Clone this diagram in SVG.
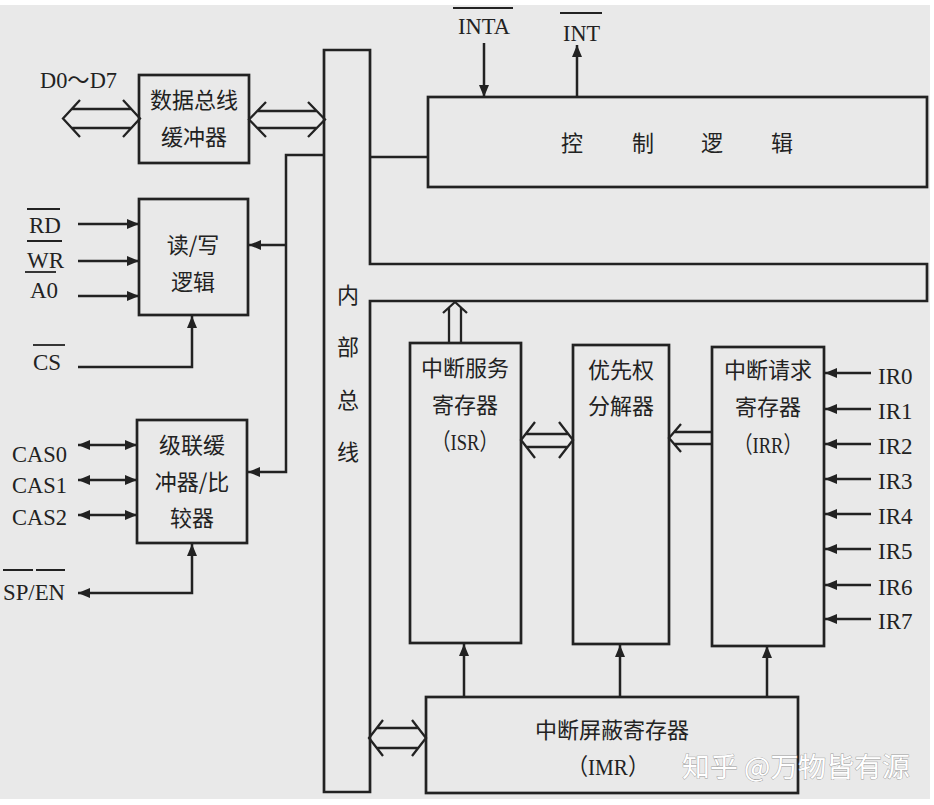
<svg xmlns="http://www.w3.org/2000/svg" width="934" height="805" viewBox="0 0 934 805">
<defs>
<style>
.box{fill:none;stroke:#222222;stroke-width:2.7}
.ln{fill:none;stroke:#222222;stroke-width:2.5}
.hol{fill:none;stroke:#222222;stroke-width:2.3;stroke-linejoin:miter}
.ov{fill:none;stroke:#222222;stroke-width:1.8}
.lt{font-family:"Liberation Serif","Noto Sans CJK SC",serif;font-size:23px;fill:#222222}
.cn{font-family:"Noto Sans CJK SC","Noto Sans CJK JP",sans-serif;font-size:22px;fill:#222222;text-anchor:middle}
.mx{font-family:"Liberation Serif","Noto Sans CJK SC",serif;font-size:23px;fill:#222222;text-anchor:middle}
.wm{font-family:"Noto Sans CJK SC",sans-serif;font-size:27px;fill:#ffffff;stroke:#9a9a9a;stroke-width:0.8;paint-order:stroke}
</style>
<marker id="ah" viewBox="0 0 12 10" refX="12" refY="5" markerWidth="12" markerHeight="10" markerUnits="userSpaceOnUse" orient="auto-start-reverse">
<path d="M0,0 L12,5 L0,10 z" fill="#222222"/>
</marker>
</defs>
<rect x="0" y="0" width="934" height="805" fill="#ffffff"/>
<rect x="0" y="5" width="930" height="794" fill="#e9e9e9"/>

<g id="bus">
<path class="box" d="M324,50 H370 V264 H927 V301 H370 V792 H324 Z"/>
<text class="cn" x="348" y="303">内</text>
<text class="cn" x="348" y="355">部</text>
<text class="cn" x="348" y="408">总</text>
<text class="cn" x="348" y="460">线</text>
</g>

<g id="data-buffer">
<rect class="box" x="139" y="75" width="110" height="88"/>
<text class="cn" x="194" y="108">数据总线</text>
<text class="cn" x="194" y="145">缓冲器</text>
</g>

<g id="rw-logic">
<rect class="box" x="139" y="199" width="109" height="116"/>
<text class="cn" x="193" y="253">读/写</text>
<text class="cn" x="193" y="290">逻辑</text>
</g>

<g id="cascade">
<rect class="box" x="137" y="420" width="110" height="123"/>
<text class="cn" x="192" y="453">级联缓</text>
<text class="cn" x="192" y="490">冲器/比</text>
<text class="cn" x="192" y="526">较器</text>
</g>

<g id="control">
<rect class="box" x="428" y="97" width="499" height="90"/>
<text class="cn" x="572" y="151">控</text>
<text class="cn" x="643" y="151">制</text>
<text class="cn" x="712" y="151">逻</text>
<text class="cn" x="782" y="151">辑</text>
</g>

<g id="isr">
<rect class="box" x="410" y="343" width="111" height="300"/>
<text class="cn" x="465" y="376">中断服务</text>
<text class="cn" x="465" y="413">寄存器</text>
<text class="mx" x="465" y="450" textLength="66" lengthAdjust="spacingAndGlyphs">（ISR）</text>
</g>

<g id="priority">
<rect class="box" x="573" y="345" width="96" height="299"/>
<text class="cn" x="621" y="378">优先权</text>
<text class="cn" x="621" y="414">分解器</text>
</g>

<g id="irr">
<rect class="box" x="712" y="347" width="112" height="299"/>
<text class="cn" x="768" y="378">中断请求</text>
<text class="cn" x="768" y="415">寄存器</text>
<text class="mx" x="768" y="453" textLength="68" lengthAdjust="spacingAndGlyphs">（IRR）</text>
</g>

<g id="imr">
<rect class="box" x="426" y="697" width="372" height="96"/>
<text class="cn" x="612" y="738">中断屏蔽寄存器</text>
<text class="mx" x="608" y="775" textLength="82" lengthAdjust="spacingAndGlyphs">（IMR）</text>
</g>

<g id="labels">
<text class="lt" x="40" y="88" textLength="77" lengthAdjust="spacingAndGlyphs">D0～D7</text>
<text class="lt" x="29" y="233">RD</text>
<path class="ov" d="M27,209 H60"/>
<text class="lt" x="27" y="268">WR</text>
<path class="ov" d="M27,241 H62"/>
<path class="ov" d="M25,272 H56"/>
<text class="lt" x="30" y="298">A0</text>
<text class="lt" x="33" y="370">CS</text>
<path class="ov" d="M33,345 H65"/>
<text class="lt" x="12" y="462" textLength="55" lengthAdjust="spacingAndGlyphs">CAS0</text>
<text class="lt" x="12" y="493" textLength="55" lengthAdjust="spacingAndGlyphs">CAS1</text>
<text class="lt" x="12" y="525" textLength="55" lengthAdjust="spacingAndGlyphs">CAS2</text>
<text class="lt" x="3" y="600" textLength="62" lengthAdjust="spacingAndGlyphs">SP/EN</text>
<path class="ov" d="M3,570 H33 M36,570 H65"/>
<text class="lt" x="458" y="34" textLength="52" lengthAdjust="spacingAndGlyphs">INTA</text>
<path class="ov" d="M453,8 H513"/>
<text class="lt" x="563" y="41" textLength="37" lengthAdjust="spacingAndGlyphs">INT</text>
<path class="ov" d="M560,13 H602"/>
<text class="lt" x="878" y="384">IR0</text>
<text class="lt" x="878" y="419">IR1</text>
<text class="lt" x="878" y="454">IR2</text>
<text class="lt" x="878" y="489">IR3</text>
<text class="lt" x="878" y="524">IR4</text>
<text class="lt" x="878" y="559">IR5</text>
<text class="lt" x="878" y="595">IR6</text>
<text class="lt" x="878" y="629">IR7</text>
<text class="wm" x="682" y="777" textLength="228" lengthAdjust="spacingAndGlyphs">知乎 @万物皆有源</text>
</g>

<g id="connectors">
<path class="hol" d="M80,100 L63,118.5 L80,137 M123,100 L140,118.5 L123,137 M72,109 H131 M72,128 H131"/>
<path class="hol" d="M266,102 L249,119.5 L266,137 M308,102 L325,119.5 L308,137 M257,111 H317 M257,128 H317"/>
<path class="hol" d="M535,422 L521,440 L535,458 M559,422 L573,440 L559,458 M526,434 H568 M526,447 H568"/>
<path class="hol" d="M681,424 L669,438 L681,452 M674,432 H712 M674,444 H712"/>
<path class="hol" d="M443,313 L455,302 L467,313 M449,307 V343 M461,307 V343"/>
<path class="hol" d="M383,720 L369,738 L383,756 M412,720 L426,738 L412,756 M377,728 H418 M377,748 H418"/>
<path class="ln" d="M370,157 H428"/>
<path class="ln" d="M324,155 H286 V472 H248" marker-end="url(#ah)"/>
<path class="ln" d="M286,245 H249" marker-end="url(#ah)"/>
<path class="ln" d="M78,224 H139" marker-end="url(#ah)"/>
<path class="ln" d="M78,261 H139" marker-end="url(#ah)"/>
<path class="ln" d="M78,296 H139" marker-end="url(#ah)"/>
<path class="ln" d="M78,367 H192 V316" marker-end="url(#ah)"/>
<path class="ln" d="M78,445 H137" marker-start="url(#ah)" marker-end="url(#ah)"/>
<path class="ln" d="M78,480 H137" marker-start="url(#ah)" marker-end="url(#ah)"/>
<path class="ln" d="M78,515 H137" marker-start="url(#ah)" marker-end="url(#ah)"/>
<path class="ln" d="M192,544 V593 H78" marker-start="url(#ah)" marker-end="url(#ah)"/>
<path class="ln" d="M484,43 V97" marker-end="url(#ah)"/>
<path class="ln" d="M577,97 V45" marker-end="url(#ah)"/>
<path class="ln" d="M871,373 H825" marker-end="url(#ah)"/>
<path class="ln" d="M871,409 H825" marker-end="url(#ah)"/>
<path class="ln" d="M871,444 H825" marker-end="url(#ah)"/>
<path class="ln" d="M871,479 H825" marker-end="url(#ah)"/>
<path class="ln" d="M871,514 H825" marker-end="url(#ah)"/>
<path class="ln" d="M871,549 H825" marker-end="url(#ah)"/>
<path class="ln" d="M871,585 H825" marker-end="url(#ah)"/>
<path class="ln" d="M871,619 H825" marker-end="url(#ah)"/>
<path class="ln" d="M464,697 V644" marker-end="url(#ah)"/>
<path class="ln" d="M620,697 V645" marker-end="url(#ah)"/>
<path class="ln" d="M767,697 V646" marker-end="url(#ah)"/>
</g>
</svg>
